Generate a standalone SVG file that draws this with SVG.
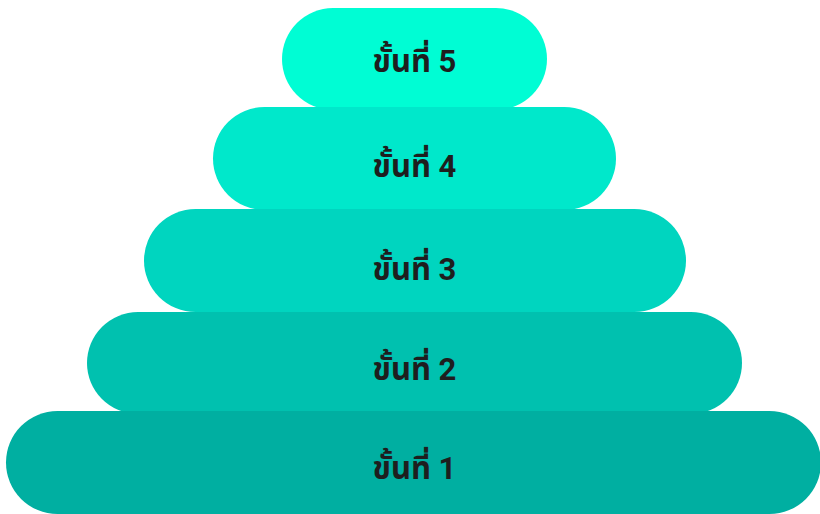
<svg xmlns="http://www.w3.org/2000/svg" width="820" height="514" viewBox="0 0 820 514">
<style>
.lbl{font-family:Roboto,"Noto Sans","Noto Sans Thai","DejaVu Sans",sans-serif;font-weight:700;font-size:31px;fill:#1e1e1e;text-anchor:middle}
</style>
<rect width="820" height="514" fill="#ffffff"/>
<g id="step5"><rect x="282" y="8" width="265" height="102" rx="51" fill="#00FDD4"/><text class="lbl" x="414.5" y="72">ขั้นที่ 5</text></g>
<g id="step4"><rect x="213" y="107" width="403" height="103" rx="51.5" fill="#00E8CB"/><text class="lbl" x="414.5" y="177">ขั้นที่ 4</text></g>
<g id="step3"><rect x="144" y="209" width="542" height="103" rx="51.5" fill="#00D5BF"/><text class="lbl" x="414.5" y="280">ขั้นที่ 3</text></g>
<g id="step2"><rect x="87" y="312" width="655" height="102" rx="51" fill="#00C1AF"/><text class="lbl" x="414.5" y="380">ขั้นที่ 2</text></g>
<g id="step1"><rect x="6" y="411" width="815" height="103" rx="51.5" fill="#00AFA1"/><text class="lbl" x="414.5" y="479">ขั้นที่ 1</text></g>
<g id="connectors"/>
</svg>
